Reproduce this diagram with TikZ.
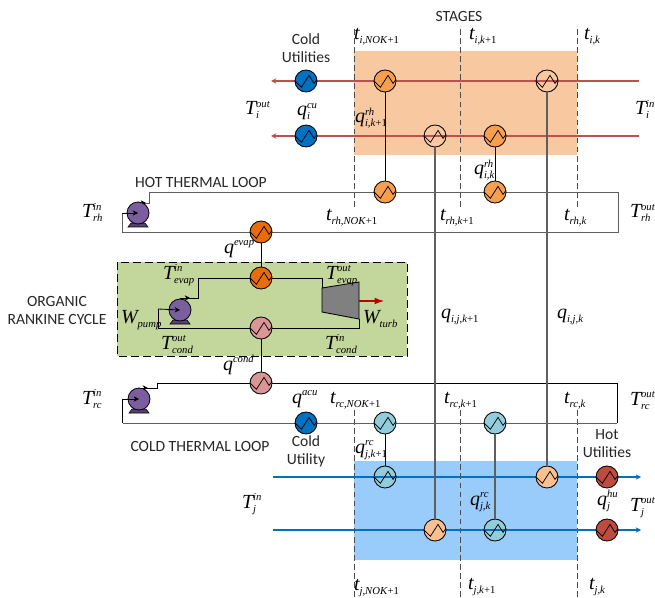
\documentclass[tikz,border=0pt]{standalone}
\usepackage{fontspec}
\setmainfont{Carlito}
\newfontfamily\tms{Liberation Serif}
\usetikzlibrary{arrows.meta}
\definecolor{hotline}{HTML}{C0504D}
\definecolor{hotbg}{HTML}{F8C8A0}
\definecolor{coldbg}{HTML}{99CBFB}
\definecolor{coldline}{HTML}{0070C0}
\definecolor{orgreen}{HTML}{C3D69B}
\definecolor{heorange}{HTML}{F79F4F}
\definecolor{hedeep}{HTML}{E96C0A}
\definecolor{hepink}{HTML}{D99694}
\definecolor{heteal}{HTML}{92CDDC}
\definecolor{helight}{HTML}{FAC090}
\definecolor{hered}{HTML}{BE4B3F}
\definecolor{pumpc}{HTML}{7B5EA0}
\definecolor{greyl}{HTML}{5F5F5F}
\newcommand{\ml}[3]{{\tms\itshape{\fontsize{15}{15}\selectfont #1}\rlap{\raisebox{5.8pt}{\fontsize{8}{8}\selectfont #2}}\raisebox{-3pt}{\fontsize{8}{8}\selectfont #3}}}
\newcommand{\pl}{\textup{+1}}
\tikzset{
  x=0.75pt,y=-0.75pt,
  he/.style={circle,draw=black,line width=0.65pt,minimum size=16.5pt,inner sep=0pt,outer sep=0pt},
  zig/.style={draw=black,line width=0.55pt,line join=miter},
  pumpnode/.style={circle,draw=black,line width=0.6pt,fill=pumpc,minimum size=16.5pt,inner sep=0pt,outer sep=0pt},
  lab/.style={anchor=base west,inner sep=0pt,outer sep=0pt},
  txt/.style={align=center,font=\fontsize{11.7}{13.5}\selectfont,text=black!85,inner sep=0pt},
  dash line/.style={draw=black!70,line width=0.7pt,dash pattern=on 4.2pt off 2.6pt},
  hots/.style={draw=hotline,line width=1pt},
  colds/.style={draw=coldline,line width=0.9pt},
  loopg/.style={draw=greyl,line width=0.7pt},
  loopk/.style={draw=black,line width=0.6pt},
  linkk/.style={draw=black,line width=0.7pt},
  linkg/.style={draw=greyl,line width=0.85pt},
  tip/.style={-{Stealth[length=4pt,width=4pt]}},
}
\newcommand{\zg}[1]{\path[zig] (#1.west) -- ++(6.4,6.3) -- ++(7.6,-11.9) -- ++(5,8) -- ++(3,-3.9);}
\begin{document}
\begin{tikzpicture}
\useasboundingbox (0,0) rectangle (655,598);
% backgrounds
\path[fill=hotbg] (354,51) rectangle (577,155);
\path[fill=coldbg] (354,461) rectangle (577,560);
\path[fill=orgreen,draw=black,line width=0.65pt,dash pattern=on 6pt off 3pt] (117,262) rectangle (407,356);
% stage guides
\coordinate (d1a) at (354,29); \coordinate (d1b) at (354,207);
\coordinate (d2a) at (460,29); \coordinate (d2b) at (460,207);
\coordinate (d3a) at (577,29); \coordinate (d3b) at (577,207);
\coordinate (d4a) at (354,410); \coordinate (d4b) at (354,598);
\coordinate (d5a) at (460,410); \coordinate (d5b) at (460,598);
\coordinate (d6a) at (577,410); \coordinate (d6b) at (577,598);
\foreach \n in {1,...,6} \draw[dash line] (d\n a) -- (d\n b);
% stream ends
\coordinate (h1r) at (639,81); \coordinate (h1l) at (271,81);
\coordinate (h2r) at (639,136); \coordinate (h2l) at (271,136);
\coordinate (c1l) at (273,477); \coordinate (c1r) at (641,477);
\coordinate (c2l) at (273,530); \coordinate (c2r) at (641,530);
\draw[hots,tip] (h1r) -- (h1l);
\draw[hots,tip] (h2r) -- (h2l);
\draw[colds,tip] (c1l) -- (c1r);
\draw[colds,tip] (c2l) -- (c2r);
% loop corners
\coordinate (a1) at (149,203); \coordinate (a2) at (149,192); \coordinate (a3) at (618,192);
\coordinate (a4) at (618,232); \coordinate (a5) at (122,232); \coordinate (a6) at (122,213);
\coordinate (a0) at (138,203);
\coordinate (b1) at (157,388); \coordinate (b2) at (157,383); \coordinate (b3) at (617,383);
\coordinate (b4) at (617,423); \coordinate (b5) at (122.5,423); \coordinate (b6) at (122.5,399);
\coordinate (b0) at (139,388);
\coordinate (o1) at (198,298); \coordinate (o2) at (198,278); \coordinate (o3) at (322,278);
\coordinate (o5) at (359,328); \coordinate (o6) at (158,328); \coordinate (o7) at (158,309);
\coordinate (o0) at (180,298);
\coordinate (tu) at (359,319); \coordinate (tin) at (322,288); \coordinate (ta) at (359,301); \coordinate (tb) at (384,301);
\draw[loopg] (a0) -- (a1) -- (a2) -- (a3) -- (a4) -- (a5) -- (a6);
\draw[loopk] (b0) -- (b1) -- (b2) -- (b3) -- (b4);
\draw[loopg] (b4) -- (b5);
\draw[loopk] (b5) -- (b6);
\draw[loopk] (o0) -- (o1) -- (o2) -- (o3) -- (tin);
\draw[loopk] (tu) -- (o5) -- (o6) -- (o7);
% small arrow ticks on the pump outlets
\coordinate (a0t) at (146,203); \coordinate (b0t) at (148,388); \coordinate (o0t) at (190,298);
\draw[loopk,tip] (a0) -- (a0t);
\draw[loopk,tip] (b0) -- (b0t);
\draw[loopk,tip] (o0) -- (o0t);
% heat exchangers
\node[he,fill=coldline] (cu1) at (306,81) {};
\node[he,fill=coldline] (cu2) at (306,136) {};
\node[he,fill=heorange] (r1) at (385,81) {};
\node[he] (w1) at (547,81) {};
\node[he] (w2) at (435,136) {};
\node[he,fill=heorange] (r2) at (495,136) {};
\node[he,fill=heorange] (l1) at (385,192) {};
\node[he,fill=heorange] (l2) at (495,192) {};
\node[he,fill=hedeep] (ev1) at (261,232) {};
\node[he,fill=hedeep] (ev2) at (261,278) {};
\node[he,fill=hepink] (cd1) at (261,328) {};
\node[he,fill=hepink] (cd2) at (261,383) {};
\node[he,fill=coldline] (acu) at (306,423) {};
\node[he,fill=heteal] (t1) at (385,423) {};
\node[he,fill=heteal] (t2) at (495,423) {};
\node[he,fill=heteal] (t3) at (385,477) {};
\node[he,fill=heteal] (t4) at (495,530) {};
\node[he,fill=helight] (p1) at (547,477) {};
\node[he,fill=helight] (p2) at (435,530) {};
\node[he,fill=hered] (hu1) at (607,477) {};
\node[he,fill=hered] (hu2) at (607,530) {};
% stream line showing through teal exchangers
\draw[colds] (t3.west) -- (t3.east);
\draw[colds] (t4.west) -- (t4.east);
% links
\draw[linkk] (r1) -- (l1);
\draw[linkk] (r2) -- (l2);
\draw[linkk] (ev1) -- (ev2);
\draw[linkk] (cd1) -- (cd2);
\draw[linkk] (t1) -- (t3);
\draw[linkg] (w2) -- (p2);
\draw[linkg] (w1) -- (p1);
\draw[linkg] (t2) -- (t4);
\foreach \n in {cu1,cu2,r1,w1,w2,r2,l1,l2,ev1,ev2,cd1,cd2,acu,t1,t2,t3,t4,p1,p2,hu1,hu2} {\zg{\n}}
% pumps
\foreach \n/\x/\y in {pa/138/213,pb/139/399,pc/180/310} {
  \path[fill=pumpc!70!black,draw=black,line width=0.4pt] (\x-10,\y+14) -- (\x-7,\y+10) -- (\x+7,\y+10) -- (\x+10,\y+14) -- cycle;
  \node[pumpnode] (\n) at (\x,\y) {};
}
\draw[loopk,tip] (a6) -- (pa.center);
\draw[loopk,tip] (b6) -- (pb.center);
\draw[loopk,tip] (o7) -- (pc.center);
% turbine
\path[fill=black!50,draw=black,line width=0.65pt] (tin) -- (359,282) -- (tu) -- (322,312) -- cycle;
\draw[draw=red!75!black,line width=0.8pt,-{Latex[length=7pt,width=5pt]}] (ta) -- (tb);
% plain text
\node[txt] (tstages) at (459,16) {STAGES};
\node[txt] (tcu) at (306,48.5) {Cold\\Utilities};
\node[txt] (thot) at (201,182) {HOT THERMAL LOOP};
\node[txt] (torc) at (57,310) {ORGANIC\\RANKINE CYCLE};
\node[txt] (tcold) at (200,446) {COLD THERMAL LOOP};
\node[txt] (tcy) at (306,451) {Cold\\Utility};
\node[txt] (thu) at (607,444) {Hot\\Utilities};
% symbols
\node[lab] (l01) at (354,40) {\ml{t}{}{i,NOK\pl}};
\node[lab] (l02) at (469,40) {\ml{t}{}{i,k\pl}};
\node[lab] (l03) at (584,40) {\ml{t}{}{i,k}};
\node[lab] (l04) at (245,115) {\ml{T}{out}{i}};
\node[lab] (l05) at (635,115) {\ml{T}{in}{i}};
\node[lab] (l06) at (297,116) {\ml{q}{cu}{i}};
\node[lab] (l07) at (355,123) {\ml{q}{rh}{i,k\pl}};
\node[lab] (l08) at (474,175) {\ml{q}{rh}{i,k}};
\node[lab] (l09) at (326,220) {\ml{t}{}{rh,NOK\pl}};
\node[lab] (l10) at (440,220) {\ml{t}{}{rh,k\pl}};
\node[lab] (l11) at (564,220) {\ml{t}{}{rh,k}};
\node[lab] (l12) at (630,218) {\ml{T}{out}{rh}};
\node[lab] (l13) at (82,218) {\ml{T}{in}{rh}};
\node[lab] (l14) at (224,253) {\ml{q}{evap}{}};
\node[lab] (l15) at (163,279) {\ml{T}{in}{evap}};
\node[lab] (l16) at (326,279) {\ml{T}{out}{evap}};
\node[lab] (l17) at (121,323) {\ml{W}{}{pump}};
\node[lab] (l18) at (363,323) {\ml{W}{}{turb}};
\node[lab] (l19) at (161,349) {\ml{T}{out}{cond}};
\node[lab] (l20) at (325,349) {\ml{T}{in}{cond}};
\node[lab] (l21) at (223,370) {\ml{q}{cond}{}};
\node[lab] (l22) at (441,318) {\ml{q}{}{i,j,k\pl}};
\node[lab] (l23) at (557,318) {\ml{q}{}{i,j,k}};
\node[lab] (l24) at (82,404) {\ml{T}{in}{rc}};
\node[lab] (l25) at (630,405) {\ml{T}{out}{rc}};
\node[lab] (l26) at (292,403) {\ml{q}{acu}{}};
\node[lab] (l27) at (330,403) {\ml{t}{}{rc,NOK\pl}};
\node[lab] (l28) at (444,403) {\ml{t}{}{rc,k\pl}};
\node[lab] (l29) at (564,403) {\ml{t}{}{rc,k}};
\node[lab] (l30) at (355,453) {\ml{q}{rc}{j,k\pl}};
\node[lab] (l31) at (470,505) {\ml{q}{rc}{j,k}};
\node[lab] (l32) at (597,505) {\ml{q}{hu}{j}};
\node[lab] (l33) at (242,508) {\ml{T}{in}{j}};
\node[lab] (l34) at (630,511) {\ml{T}{out}{j}};
\node[lab] (l35) at (354,590) {\ml{t}{}{j,NOK\pl}};
\node[lab] (l36) at (468,589) {\ml{t}{}{j,k\pl}};
\node[lab] (l37) at (589,589) {\ml{t}{}{j,k}};
\end{tikzpicture}
\end{document}
